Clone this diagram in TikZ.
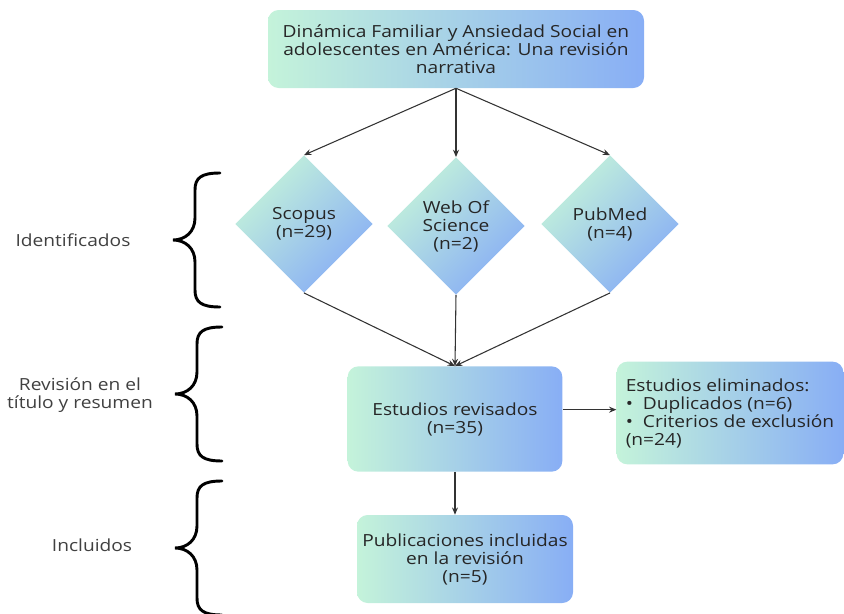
\documentclass[tikz,border=0pt]{standalone}
\usepackage{fontspec}
\setmainfont{Open Sans}[FakeStretch=1.15]
\usetikzlibrary{shapes.geometric,arrows.meta}
\definecolor{menta}{HTML}{C4F3DA}
\definecolor{celeste}{HTML}{88AEF5}
\definecolor{tinta}{HTML}{262626}

\begin{document}
\begin{tikzpicture}[x=0.75pt, y=-0.75pt,
    every node/.style={font=\fontsize{12.5}{13.5}\selectfont, text=tinta},
    caja/.style={rounded corners=8pt, left color=menta, right color=celeste, align=center, inner sep=0pt},
    rombo/.style={diamond, aspect=1, minimum width=103pt, minimum height=103pt, inner sep=0pt,
      top color=menta, bottom color=celeste, shading angle=45, align=center},
    flecha/.style={-{Stealth[length=5.5pt,width=4.5pt]}, draw=black!80, line width=0.8pt},
    etiqueta/.style={align=center, text=black!75},
    llave/.pic={\draw[line width=2.2pt, line cap=round]
      (47,-67) .. controls (28,-67) and (22,-62) .. (22,-50) -- (22,-22)
      .. controls (22,-8) and (12,0) .. (0,0)
      .. controls (12,0) and (22,8) .. (22,22) -- (22,50)
      .. controls (22,62) and (28,67) .. (47,67);}]
    \useasboundingbox (0,0) rectangle (844,614);

    \node[caja, minimum width=282pt, minimum height=58.5pt] (tit) at (456,49)
      {Dinámica Familiar y Ansiedad Social en\\adolescentes en América: Una revisión\\narrativa};
    \node[rombo] (sco) at (304,224) {Scopus\\(n=29)};
    \node[rombo] (wos) at (456,226) {Web Of\\Science\\(n=2)};
    \node[rombo] (pub) at (610,224) {PubMed\\(n=4)};
    \node[caja, minimum width=161pt, minimum height=79pt] (rev) at (455,419) {Estudios revisados\\(n=35)};
    \node[caja, minimum width=170pt, minimum height=77pt, align=left] (eli) at (730,413)
      {Estudios eliminados:\\ \textbullet\ \ Duplicados (n=6)\\ \textbullet\ \ Criterios de exclusión\\(n=24)};
    \node[caja, minimum width=162pt, minimum height=66pt] (inc) at (465,559)
      {Publicaciones incluidas\\en la revisión\\(n=5)};

    \node[etiqueta] (lid) at (73,240) {Identificados};
    \node[etiqueta] (lrev) at (80,395) {Revisión en el\\título y resumen};
    \node[etiqueta] (linc) at (92,545) {Incluidos};
    \pic at (173,240) {llave};
    \pic at (175,394) {llave};
    \pic at (175,548) {llave};

    \draw[flecha] (tit.south) -- (sco.north);
    \draw[flecha] (tit.south) -- (wos.north);
    \draw[flecha] (tit.south) -- (pub.north);
    \draw[flecha] (sco.south) -- (rev.north);
    \draw[flecha] (wos.south) -- (rev.north);
    \draw[flecha] (pub.south) -- (rev.north);
    \draw[flecha] ([yshift=7pt]rev.east) -- ([yshift=7pt]rev.east -| eli.west);
    \draw[flecha] (rev.south) -- (rev.south |- inc.north);
\end{tikzpicture}
\end{document}
